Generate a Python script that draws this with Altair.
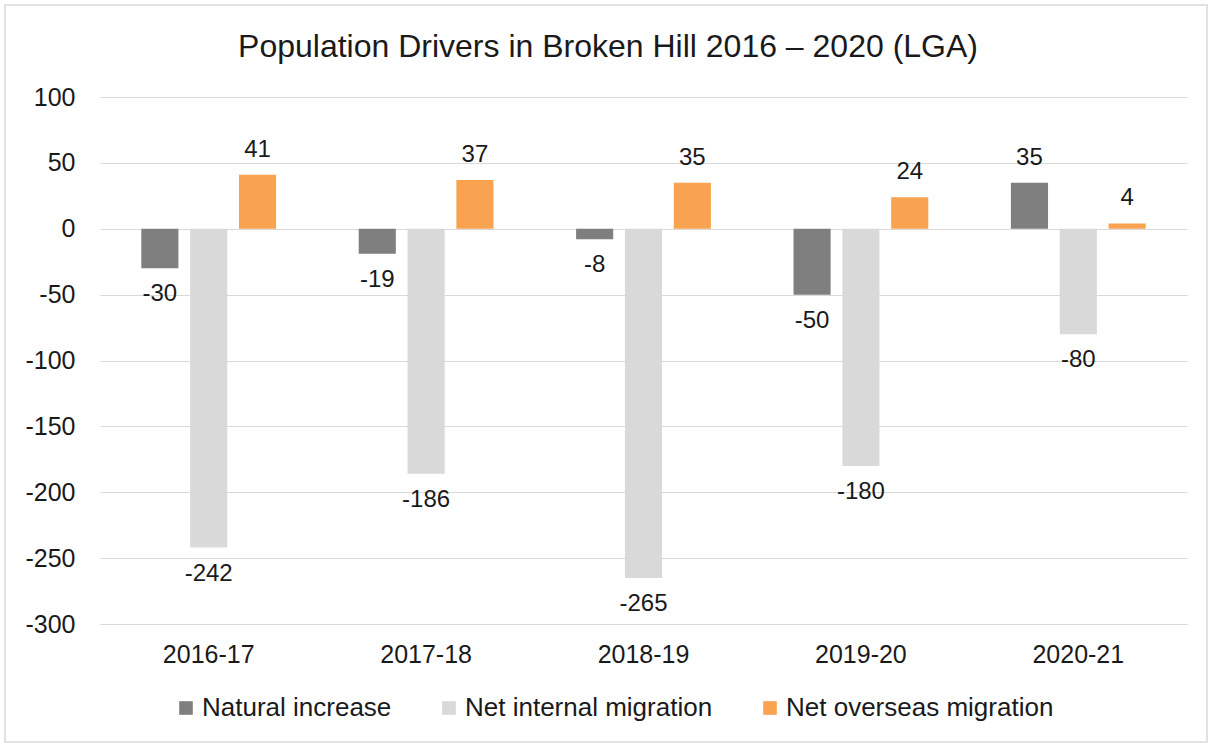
import altair as alt
import pandas as pd

title_text = "Population Drivers in Broken Hill 2016 – 2020 (LGA)"
years = ["2016-17", "2017-18", "2018-19", "2019-20", "2020-21"]
series = ["Natural increase", "Net internal migration", "Net overseas migration"]
natural_increase = [-30, -19, -8, -50, 35]
net_internal = [-242, -186, -265, -180, -80]
net_overseas = [41, 37, 35, 24, 4]
colors = ["#7f7f7f", "#d9d9d9", "#f9a24f"]
y_ticks = [100, 50, 0, -50, -100, -150, -200, -250, -300]

rows = []
for i, y in enumerate(years):
    for s, vals in zip(series, [natural_increase, net_internal, net_overseas]):
        rows.append({"year": y, "series": s, "value": vals[i], "label": str(vals[i])})
df = pd.DataFrame(rows)

FONT = "Liberation Sans"
TXT = "#1a1a1a"

base = alt.Chart(df).encode(
    x=alt.X("year:N", sort=years, title=None,
            scale=alt.Scale(paddingInner=0.38, paddingOuter=0.19),
            axis=alt.Axis(labelAngle=0, ticks=False, domain=False, grid=False,
                          labelFontSize=25, labelFont=FONT, labelColor=TXT,
                          labelPadding=18)),
    xOffset=alt.XOffset("series:N", sort=series,
                        scale=alt.Scale(paddingInner=0.24, paddingOuter=0)),
)

bars = base.mark_bar().encode(
    y=alt.Y("value:Q", title=None,
            scale=alt.Scale(domain=[-300, 100], nice=False),
            axis=alt.Axis(values=y_ticks, ticks=False, domain=False,
                          gridColor="#d9d9d9", gridWidth=1.2,
                          labelExpr="datum.value < 0 ? '-' + abs(datum.value) : '' + datum.value",
                          labelFontSize=25, labelFont=FONT, labelColor=TXT,
                          labelPadding=25)),
    color=alt.Color("series:N", sort=series,
                    scale=alt.Scale(domain=series, range=colors),
                    legend=alt.Legend(title=None, orient="none", direction="horizontal",
                                      legendX=73, legendY=598,
                                      symbolType="square", symbolSize=185,
                                      symbolStrokeWidth=0, labelFontSize=26,
                                      labelFont=FONT, labelColor=TXT,
                                      labelOffset=3, columnPadding=44,
                                      labelLimit=400)),
)

pos_labels = base.mark_text(baseline="middle", dy=-25, fontSize=24, font=FONT,
                            color=TXT).encode(
    y=alt.Y("value:Q"), text=alt.Text("label:N")
).transform_filter("datum.value >= 0")

neg_labels = base.mark_text(baseline="middle", dy=26, fontSize=24, font=FONT,
                            color=TXT).encode(
    y=alt.Y("value:Q"), text=alt.Text("label:N")
).transform_filter("datum.value < 0")

frame = alt.Chart(pd.DataFrame({"a": [0]})).mark_rect(
    fill=None, stroke="#d9d9d9", strokeWidth=1.5
).encode(x=alt.value(-95), x2=alt.value(1107), y=alt.value(-92), y2=alt.value(645))

title = alt.Chart(pd.DataFrame({"t": [title_text]})).mark_text(
    fontSize=32, font=FONT, color=TXT, align="center", baseline="middle"
).encode(text="t:N", x=alt.value(508), y=alt.value(-50))

chart = alt.layer(frame, bars, pos_labels, neg_labels, title).properties(
    width=1087, height=527,
    autosize=alt.AutoSizeParams(type="none"),
    padding={"left": 100, "top": 97, "right": 25, "bottom": 121},
).configure(background="white").configure_view(stroke=None)

chart.save("out.html", embed_options={"renderer": "svg", "actions": False})
